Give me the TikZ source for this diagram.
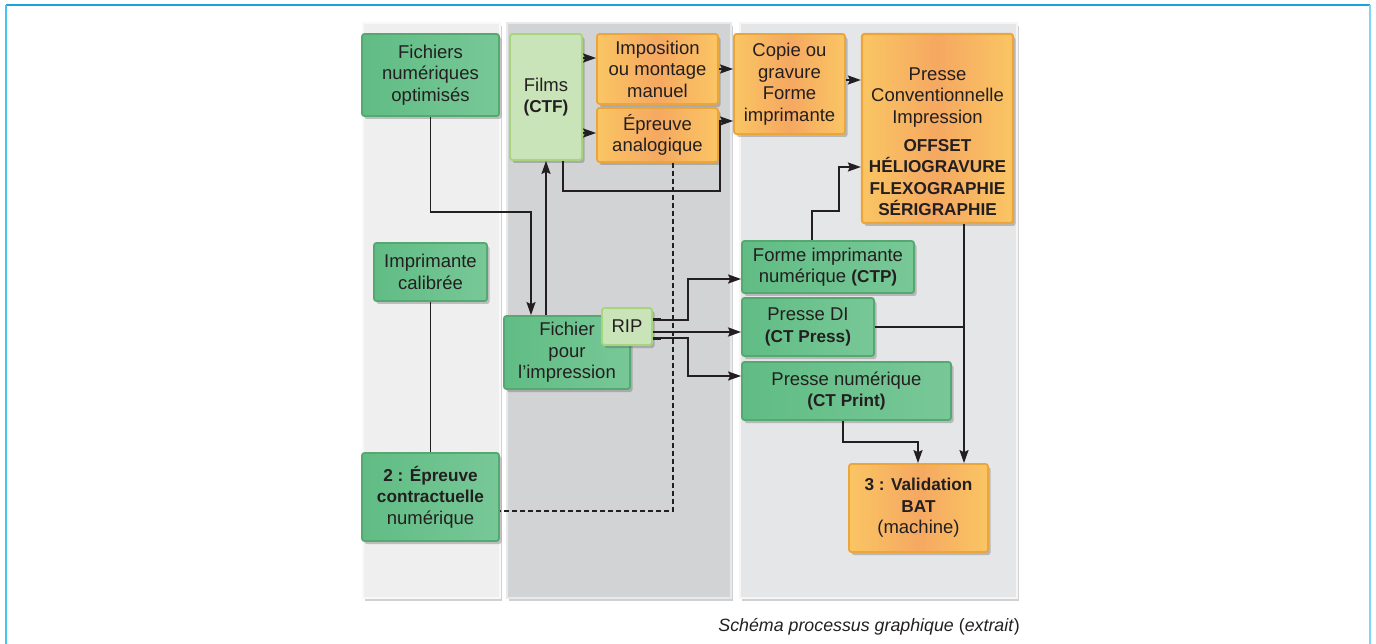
\documentclass[tikz,border=0pt]{standalone}
\usepackage{fontspec}
\setmainfont{Liberation Sans}
\usetikzlibrary{arrows.meta,shadows,calc}
\definecolor{txt}{HTML}{231F20}
\definecolor{gA}{HTML}{60BC84}
\definecolor{gB}{HTML}{78C897}
\definecolor{gD}{HTML}{55A970}
\definecolor{lg}{HTML}{C9E4B8}
\definecolor{lgD}{HTML}{A8D47E}
\definecolor{oA}{HTML}{FAC563}
\definecolor{oB}{HTML}{F5A861}
\definecolor{oD}{HTML}{ECA53B}
\definecolor{pA}{HTML}{EFEFEF}
\definecolor{pB}{HTML}{D2D3D5}
\definecolor{pC}{HTML}{E5E6E8}
\definecolor{frameA}{HTML}{1BA1DC}
\definecolor{frameB}{HTML}{47C3F2}
\newcommand{\B}[1]{{\fontsize{17.2}{21.5}\selectfont\bfseries #1}}
\tikzset{
  shd/.style={drop shadow={shadow xshift=2.5pt,shadow yshift=-3pt,opacity=0.3,fill=black!70}},
  base/.style={rectangle, rounded corners=2.5pt, inner sep=0pt, align=center, text=txt,
     font=\fontsize{18.5}{21.5}\selectfont, line width=1.8pt, shd},
  gbox/.style={base, draw=gD, left color=gA, right color=gB},
  lgbox/.style={base, draw=lgD, fill=lg},
  obox/.style={base, draw=oD, left color=oA, right color=oA, middle color=oB},
  panel/.style={line width=2.5pt, drop shadow={shadow xshift=2pt,shadow yshift=-3pt,opacity=0.3,fill=black!60}},
  line/.style={draw=txt, line width=1.7pt},
  arr/.style={line, -{Stealth[length=13pt,width=9pt,inset=2pt]}},
  dsh/.style={draw=txt, line width=1.4pt, dash pattern=on 5pt off 3pt},
}
\begin{document}
\begin{tikzpicture}[x=1pt,y=-1pt]
\useasboundingbox (0,0) rectangle (1376,644);
% frame
\draw[frameA, line width=2pt] (6,5) -- (1370,5);
\draw[frameB, line width=2.5pt] (6,5) -- (6,644);
\draw[frameB!70!white, line width=2.5pt] (1370,5) -- (1370,644);
% panels
\path[panel, fill=pA, draw=pA!40!white] (363,23) rectangle (500,598);
\path[panel, fill=pB, draw=pB!50!white] (507,23) rectangle (731,598);
\path[panel, fill=pC, draw=pC!40!white] (740,23) rectangle (1017,598);
% nodes
\node[gbox, minimum width=137pt, minimum height=82pt] (fno) at (430.5,75) {Fichiers\\num\'eriques\\optimis\'es};
\node[lgbox, minimum width=72pt, minimum height=126pt] (films) at (546,97) {Films\\\B{(CTF)}};
\node[obox, minimum width=121pt, minimum height=70pt] (impo) at (657.5,69) {Imposition\\ou montage\\manuel};
\node[obox, minimum width=121pt, minimum height=54pt] (epa) at (657.5,135) {\'Epreuve\\analogique};
\node[obox, minimum width=111pt, minimum height=100pt] (copie) at (789.5,84) {Copie ou\\gravure\\Forme\\imprimante};
\node[obox, line width=2.2pt] (presse) at (937.5,128.5) {\parbox[c][189pt][t]{151pt}{\centering\fontsize{18.5}{21.5}\selectfont\vspace*{33.5pt}Presse\\Conventionnelle\\Impression\\[6.5pt]\B{OFFSET}\\\B{H\'ELIOGRAVURE}\\\B{FLEXOGRAPHIE}\\\B{S\'ERIGRAPHIE}}};
\node[gbox, minimum width=113pt, minimum height=58pt] (imp) at (430.5,272) {Imprimante\\calibr\'ee};
\node[gbox, minimum width=126pt, minimum height=73pt] (fip) at (567,352.5) {Fichier\\pour\\l'impression};
\node[lgbox, minimum width=50pt, minimum height=37pt] (rip) at (627,326.5) {RIP};
\node[gbox, minimum width=172pt, minimum height=52pt] (ctp) at (828,267) {Forme imprimante\\num\'erique \B{(CTP)}};
\node[gbox, minimum width=132pt, minimum height=58pt] (dip) at (808,327) {Presse DI\\\B{(CT Press)}};
\node[gbox, minimum width=209pt, minimum height=58pt] (pnum) at (846.5,391) {Presse num\'erique\\\B{(CT Print)}};
\node[gbox, minimum width=137pt, minimum height=88pt] (epc) at (430.5,497) {\B{2 : \'Epreuve}\\\B{contractuelle}\\num\'erique};
\node[obox, minimum width=139pt, minimum height=88pt] (val) at (918.5,508) {\B{3 : Validation}\\\B{BAT}\\(machine)};
% connectors
\draw[arr] (fno.south) |- (531,212) -- (fip.north -| 531,0);
\draw[arr] (fip.north -| films.south) -- (films.south);
\draw[arr] (films.east |- 0,58) -- (impo.west |- 0,58);
\draw[arr] (films.east |- 0,133) -- (epa.west |- 0,133);
\draw[arr] (films.south -| 563,0) -- (563,191) -| (720,121) -- (copie.west |- 0,121);
\draw[arr] (impo.east) -- (copie.west |- impo.east);
\draw[arr] (copie.east |- 0,80) -- (presse.west |- 0,80);
\draw[arr] (ctp.north -| 812,0) -- (812,211) -| (839,167) -- (presse.west |- 0,167);
\draw[arr] (rip.east |- 0,320) -- (688,320) |- (ctp.west |- 0,279);
\draw[arr, line width=2.4pt] (rip.east |- 0,332) -- (dip.west |- 0,332);
\draw[arr] (rip.east |- 0,338) -- (688,338) |- (pnum.west |- 0,376);
\draw[line width=3pt, draw=txt] (rip.east |- 0,320) -- ++(8,0);
\draw[line width=3pt, draw=txt] (rip.east |- 0,338) -- ++(8,0);
\coordinate (j1) at (964,327);
\draw[line] (dip.east |- j1) -- (j1);
\draw[arr] (presse.south -| j1) -- (val.north -| j1);
\draw[arr] (pnum.south -| 843,0) -- (843,442) -| (val.north -| 918,0);
\draw[line] (imp.south) -- (epc.north);
\draw[dsh] (epa.south -| 673,0) -- (673,511) -- (epc.east |- 0,511);
% caption
\node[anchor=east, text=txt, font=\fontsize{17.8}{21}\selectfont, inner sep=0pt] (cap) at (1020,627) {\textit{Sch\'ema processus graphique} (\textit{extrait})};
\end{tikzpicture}
\end{document}
